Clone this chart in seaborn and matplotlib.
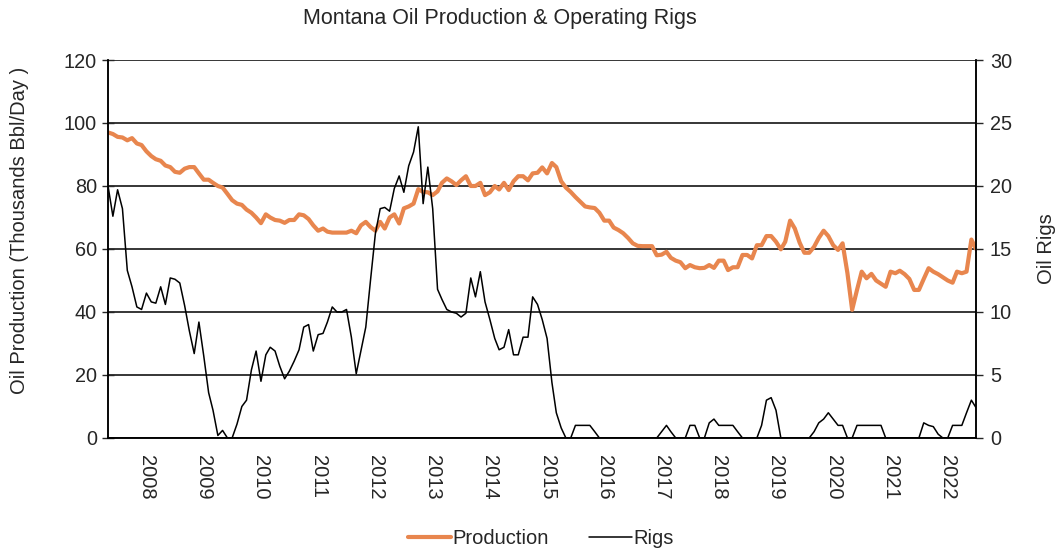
import pandas as pd
import seaborn as sns
import matplotlib.pyplot as plt
import matplotlib.dates as mdates

# --- données mensuelles, mai 2007 -> juillet 2022 ---
start_month = "2007-05-01"

production = [
    97, 96.5, 95.6, 95.4, 94.5, 95.2, 93.5, 93, 91, 89.5, 88.5, 88,
    86.5, 86, 84.5, 84.2, 85.5, 86, 86, 84, 82, 82, 81, 80,
    79.5, 77.5, 75.5, 74.4, 74, 72.5, 71.5, 70, 68.2, 71, 70, 69.2,
    69, 68.3, 69.2, 69.2, 71, 70.7, 69.5, 67.5, 65.8, 66.5, 65.5, 65.2,
    65.2, 65.2, 65.2, 65.8, 65, 67.5, 68.6, 67, 65.8, 68.6, 66.5, 70,
    71, 68.1, 72.9, 73.5, 74.4, 79, 78.1, 78, 77.1, 78.3, 81, 82.4,
    81.5, 80.3, 81.8, 83.1, 80, 80, 81, 77.1, 78, 80, 78.9, 81,
    78.7, 81.5, 83.1, 83.1, 81.8, 84, 84.2, 85.9, 84, 87.3, 86, 81.5,
    79.5, 78.1, 76.5, 75, 73.5, 73.2, 73, 71.5, 69, 69, 66.8, 66,
    65, 63.5, 61.8, 61, 60.9, 60.9, 60.9, 58, 58.2, 59.1, 57.2, 56.3,
    55.8, 53.9, 54.9, 54.2, 53.9, 54, 54.9, 54, 56.3, 56.3, 53.3, 54.2,
    54.2, 58.1, 58.1, 57, 61.2, 61.2, 64.1, 64.1, 62.3, 59.9, 62.3, 69,
    66.5, 62, 58.8, 58.8, 60.7, 63.5, 65.8, 64.1, 61.2, 59.7, 61.8, 52.3,
    40.7, 47, 52.8, 50.7, 52.1, 50, 49, 48, 52.8, 52.3, 53.1, 52,
    50.5, 47, 47, 50.5, 53.9, 52.8, 52, 51, 50, 49.3, 52.8, 52.3,
    52.8, 63, 60,
]

rigs = [
    20, 17.6, 19.7, 18.2, 13.3, 12, 10.4, 10.2, 11.5, 10.8, 10.7, 12,
    10.6, 12.7, 12.6, 12.3, 10.5, 8.5, 6.7, 9.2, 6.5, 3.6, 2.2, 0.2,
    0.6, 0, 0, 1.1, 2.5, 3, 5.4, 6.9, 4.5, 6.6, 7.2, 6.9,
    5.7, 4.7, 5.3, 6.1, 7, 8.8, 9, 6.9, 8.2, 8.3, 9.2, 10.4,
    10, 10, 10.2, 8, 5.1, 6.9, 8.8, 12.5, 16.2, 18.2, 18.3, 18,
    19.8, 20.8, 19.5, 21.6, 22.7, 24.7, 18.6, 21.5, 18.2, 11.8, 11, 10.2,
    10, 9.9, 9.6, 9.9, 12.7, 11.2, 13.2, 10.8, 9.4, 7.9, 7, 7.2,
    8.6, 6.6, 6.6, 8, 8, 11.2, 10.6, 9.4, 7.9, 4.4, 2, 0.8,
    0, 0, 1, 1, 1, 1, 0.5, 0, 0, 0, 0, 0,
    0, 0, 0, 0, 0, 0, 0, 0, 0.5, 1, 0.5, 0,
    0, 0, 1, 1, 0, 0, 1.2, 1.5, 1, 1, 1, 1,
    0.5, 0, 0, 0, 0, 1, 3, 3.2, 2.2, 0, 0, 0,
    0, 0, 0, 0, 0.5, 1.2, 1.5, 2, 1.5, 1, 1, 0,
    0, 1, 1, 1, 1, 1, 1, 0, 0, 0, 0, 0,
    0, 0, 0, 1.2, 1, 0.9, 0.3, 0, 0, 1, 1, 1,
    2, 3, 2.4,
]

df = pd.DataFrame({
    "Mois": pd.date_range(start_month, periods=len(production), freq="MS"),
    "Production": production,
    "Rigs": rigs,
})

sns.set_style("white")
plt.rcParams["font.family"] = ["Liberation Sans", "DejaVu Sans"]

fig = plt.figure(figsize=(10.55, 5.53), dpi=100)
ax = fig.add_axes([0.1024, 0.208, 0.8228, 0.6835])
ax2 = ax.twinx()

sns.lineplot(data=df, x="Mois", y="Production", ax=ax, color="#E8864E",
             linewidth=3.0, label="Production", legend=False)
sns.lineplot(data=df, x="Mois", y="Rigs", ax=ax2, color="black",
             linewidth=1.1, label="Rigs", legend=False)

# axe gauche
ax.set_ylim(0, 120)
ax.set_yticks(range(0, 121, 20))
ax.yaxis.grid(True, color="black", linewidth=1.1)
ax.set_axisbelow(True)
ax.set_ylabel("Oil Production (Thousands Bbl/Day )", fontsize=14.5)
ax.yaxis.set_label_coords(-0.091, 0.55)
ax.tick_params(axis="y", direction="inout", length=8, width=1, labelsize=14.3, pad=4)

# axe droit
ax2.set_ylim(0, 30)
ax2.set_yticks(range(0, 31, 5))
ax2.set_ylabel("Oil Rigs", fontsize=14.5, labelpad=18)
ax2.tick_params(axis="y", direction="out", length=5, width=1, labelsize=14.3, pad=5)

# axe des x : tirets en mai, étiquettes en janvier
ax.set_xlim(df["Mois"].iloc[0], df["Mois"].iloc[-1])
ax.xaxis.set_major_locator(mdates.MonthLocator(bymonth=5))
ax.xaxis.set_major_formatter(plt.NullFormatter())
ax.xaxis.set_minor_locator(mdates.MonthLocator(bymonth=1))
ax.xaxis.set_minor_formatter(mdates.DateFormatter("%Y"))
ax.tick_params(axis="x", which="major", direction="out", length=5, width=1)
ax.tick_params(axis="x", which="minor", length=0, pad=12, labelsize=14.5, labelrotation=270)
ax.set_xlabel("")

for a in (ax, ax2):
    for s in a.spines.values():
        s.set_color("black")
        s.set_linewidth(1.1)
    a.spines["top"].set_visible(False)

fig.text(0.474, 0.967, "Montana Oil Production & Operating Rigs",
         ha="center", va="center", fontsize=15.5)

h1, l1 = ax.get_legend_handles_labels()
h2, l2 = ax2.get_legend_handles_labels()
fig.legend(h1 + h2, l1 + l2, loc="center", bbox_to_anchor=(0.513, 0.027),
           ncol=2, frameon=False, fontsize=14.5, handlelength=2.1,
           columnspacing=2.0, handletextpad=0.1)

plt.savefig("out.png", dpi=100)
